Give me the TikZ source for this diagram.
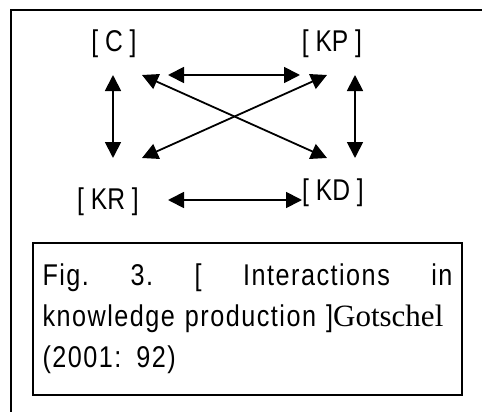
\documentclass[tikz,border=0pt]{standalone}
\usepackage{fontspec}
\setmainfont{Liberation Sans}
\newfontfamily\lblfont[FakeStretch=0.82]{Liberation Sans}
\newfontfamily\capfont[FakeStretch=0.84,LetterSpace=5]{Liberation Sans}
\newfontfamily\gotfont{Liberation Serif}
\usetikzlibrary{positioning,arrows.meta}

\begin{document}
\begin{tikzpicture}[
x=1pt, y=-1pt,
lbl/.style={
inner sep=0pt,
font=\lblfont\fontsize{30}{32}\selectfont
},
arrow/.style={
{Triangle[length=16pt,width=16pt]}-{Triangle[length=16pt,width=16pt]},
line width=1.8pt
},
frame/.style={
line width=2pt
},
capbox/.style={
rectangle,
draw,
line width=1.6pt,
minimum width=429pt,
minimum height=152pt,
inner xsep=9.5pt,
text width=410pt,
align=left,
font=\capfont\fontsize{30}{41}\selectfont
}
]
\useasboundingbox (0,0) rectangle (482,412);

% outer frame
\draw[frame] (11,412) -- (11,10) -- (482,10);

\node[lbl] (C) at (114,44) {[ C ]};
\node[lbl] (KP) at (332,44) {[ KP ]};
\node[lbl] (KR) at (108,202) {[ KR ]};
\node[lbl] (KD) at (333,193) {[ KD ]};

\draw[arrow] ([xshift=54pt,yshift=-31pt]C.center) -- ([xshift=-32pt,yshift=-31pt]KP.center);
\draw[arrow] ([xshift=-1pt,yshift=-31pt]C.center) -- ([xshift=5pt,yshift=44pt]KR.center);
\draw[arrow] ([xshift=23pt,yshift=-31pt]KP.center) -- ([xshift=22pt,yshift=35pt]KD.center);
\draw[arrow] ([xshift=28pt,yshift=-31pt]C.center) -- ([xshift=-6pt,yshift=35pt]KD.center);
\draw[arrow] ([xshift=-5pt,yshift=-31pt]KP.center) -- ([xshift=34pt,yshift=44pt]KR.center);
\draw[arrow] ([xshift=60pt,yshift=2pt]KR.center) -- ([xshift=-31pt,yshift=-7pt]KD.center);

% caption
\node[capbox] (cap) at (247.5,319) {Fig.\hfill 3.\hfill [\hfill Interactions\hfill in\\
knowledge production ]{\gotfont\fontsize{31}{41}\selectfont Gotschel}\\
(2001: 92)};

\end{tikzpicture}
\end{document}
